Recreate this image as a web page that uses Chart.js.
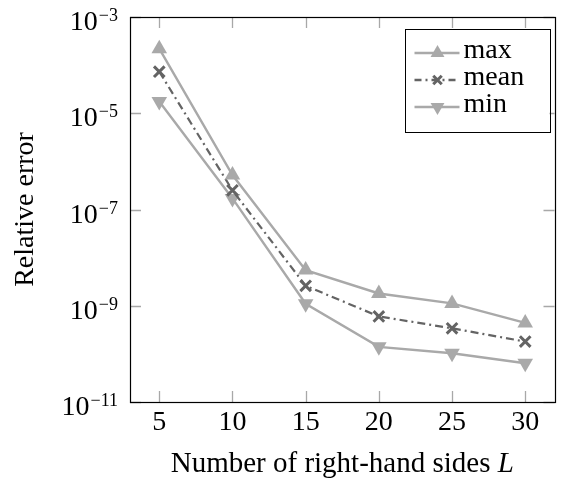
<!DOCTYPE html>
<html>
<head>
<meta charset="utf-8">
<script src="https://cdn.jsdelivr.net/npm/chart.js@4/dist/chart.umd.min.js"></script>
<style>
html,body{margin:0;padding:0;background:#fff;}
#wrap{width:565px;height:482px;position:relative;}
</style>
</head>
<body>
<div id="wrap"><canvas id="c" width="565" height="482"></canvas></div>
<script>
const categories = [5, 10, 15, 20, 25, 30];
const maxErr  = [2.2e-4, 5.2e-7, 5.5e-9, 1.8e-9, 1.12e-9, 4.4e-10];
const meanErr = [7.3e-5, 2.5e-7, 2.6e-9, 6.0e-10, 3.4e-10, 1.8e-10];
const minErr  = [1.75e-5, 1.7e-7, 1.1e-9, 1.4e-10, 1.03e-10, 6.4e-11];
const xTicks = [5, 10, 15, 20, 25, 30];
const yTickExps = [-11, -9, -7, -5, -3];
const seriesNames = ['max', 'mean', 'min'];

const LIGHT = '#a9a9a9';
const DARK = '#646464';
const FONT = "'Liberation Serif', 'DejaVu Serif', serif";

function pts(arr){ return categories.map((x,i)=>({x:x, y:arr[i]})); }

function drawMarker(ctx, style, x, y, r, color, rot){
  ctx.save();
  ctx.translate(x,y);
  if(style==='tri'){
    ctx.rotate((rot||0)*Math.PI/180);
    ctx.beginPath();
    for(let k=0;k<3;k++){
      const a = k*2*Math.PI/3;
      const px = Math.sin(a)*r, py = -Math.cos(a)*r;
      if(k===0) ctx.moveTo(px,py); else ctx.lineTo(px,py);
    }
    ctx.closePath();
    ctx.fillStyle = color; ctx.fill();
  } else {
    const d = r*Math.cos(Math.PI/4);
    ctx.strokeStyle = color; ctx.lineWidth = 3;
    ctx.beginPath();
    ctx.moveTo(-d,-d); ctx.lineTo(d,d);
    ctx.moveTo(-d,d); ctx.lineTo(d,-d);
    ctx.stroke();
  }
  ctx.restore();
}

const framePlugin = {
  id: 'frame',
  afterDatasetsDraw(chart){
    const ctx = chart.ctx;
    const a = chart.chartArea;
    const xs = chart.scales.x, ys = chart.scales.y;
    ctx.save();
    // inner tick marks
    ctx.strokeStyle = '#a8a8a8';
    ctx.lineWidth = 1.3;
    const TL = 11;
    ctx.beginPath();
    xTicks.forEach(v=>{
      const px = Math.round(xs.getPixelForValue(v))+0.5;
      ctx.moveTo(px, a.bottom); ctx.lineTo(px, a.bottom-TL);
      ctx.moveTo(px, a.top); ctx.lineTo(px, a.top+TL);
    });
    yTickExps.forEach(e=>{
      const py = Math.round(ys.getPixelForValue(Math.pow(10,e)))+0.5;
      ctx.moveTo(a.left, py); ctx.lineTo(a.left+TL, py);
      ctx.moveTo(a.right, py); ctx.lineTo(a.right-TL, py);
    });
    ctx.stroke();
    // border
    ctx.strokeStyle = '#000';
    ctx.lineWidth = 1.2;
    ctx.strokeRect(Math.round(a.left)+0.5, Math.round(a.top)+0.5, Math.round(a.right-a.left), Math.round(a.bottom-a.top));
    // y tick labels 10^e
    ctx.fillStyle = '#000';
    ctx.textBaseline = 'alphabetic';
    yTickExps.forEach(e=>{
      const py = ys.getPixelForValue(Math.pow(10,e));
      const rightX = a.left - 12;
      const expStr = '\u2212' + Math.abs(e);
      ctx.font = '18px ' + FONT;
      const ew = ctx.measureText(expStr).width;
      ctx.textAlign = 'left';
      ctx.fillText(expStr, rightX - ew, py + 4);
      ctx.font = '28px ' + FONT;
      ctx.textAlign = 'right';
      ctx.fillText('10', rightX - ew - 1, py + 13);
    });
    // y title
    ctx.save();
    ctx.translate(33, (a.top + a.bottom)/2);
    ctx.rotate(-Math.PI/2);
    ctx.font = '28px ' + FONT;
    ctx.textAlign = 'center';
    ctx.fillText('Relative error', 0, 0);
    ctx.restore();
    // x title
    ctx.font = '29px ' + FONT;
    const t1 = 'Number of right-hand sides ';
    const w1 = ctx.measureText(t1).width;
    ctx.font = 'italic 29px ' + FONT;
    const w2 = ctx.measureText('L').width;
    const cx = (a.left + a.right)/2;
    const sx = cx - (w1 + w2)/2;
    ctx.textAlign = 'left';
    ctx.font = '29px ' + FONT;
    ctx.fillText(t1, sx, 472);
    ctx.font = 'italic 29px ' + FONT;
    ctx.fillText('L', sx + w1, 472);
    // legend
    const lx = a.right - 150, ly = a.top + 12, lw = 145, lh = 103;
    ctx.fillStyle = '#fff';
    ctx.fillRect(lx, ly, lw, lh);
    ctx.strokeStyle = '#000';
    ctx.lineWidth = 1;
    ctx.strokeRect(Math.round(lx)+0.5, Math.round(ly)+0.5, lw, lh);
    const rows = [
      {name: seriesNames[0], color: LIGHT, dash: [], style: 'tri', rot: 0, r: 8},
      {name: seriesNames[1], color: DARK, dash: [7,4,2,4], style: 'x', rot: 0, r: 6},
      {name: seriesNames[2], color: LIGHT, dash: [], style: 'tri', rot: 180, r: 8}
    ];
    rows.forEach((row,i)=>{
      const yy = ly + 24 + i*27;
      ctx.save();
      ctx.strokeStyle = row.color;
      ctx.lineWidth = 2.4;
      ctx.setLineDash(row.dash);
      ctx.beginPath();
      ctx.moveTo(lx + 10, yy); ctx.lineTo(lx + 55, yy);
      ctx.stroke();
      ctx.restore();
      drawMarker(ctx, row.style, lx + 33, yy, row.r, row.color, row.rot);
      ctx.fillStyle = '#000';
      ctx.font = '28px ' + FONT;
      ctx.textAlign = 'left';
      ctx.textBaseline = 'alphabetic';
      ctx.fillText(row.name, lx + 59, yy + 5);
    });
    ctx.restore();
  }
};

new Chart(document.getElementById('c'), {
  type: 'line',
  data: {
    datasets: [
      {label: seriesNames[0], data: pts(maxErr), borderColor: LIGHT, backgroundColor: LIGHT,
       borderWidth: 2.4, pointStyle: 'triangle', pointRadius: 9, pointBorderWidth: 0, pointBackgroundColor: LIGHT, tension: 0},
      {label: seriesNames[1], data: pts(meanErr), borderColor: DARK, backgroundColor: DARK,
       borderWidth: 2.2, borderDash: [8,4,2,4], pointStyle: 'crossRot', pointRadius: 7.5, pointBorderWidth: 3, pointBorderColor: DARK, tension: 0},
      {label: seriesNames[2], data: pts(minErr), borderColor: LIGHT, backgroundColor: LIGHT,
       borderWidth: 2.4, pointStyle: 'triangle', pointRotation: 180, pointRadius: 9, pointBorderWidth: 0, pointBackgroundColor: LIGHT, tension: 0}
    ]
  },
  options: {
    responsive: false,
    animation: false,
    layout: {padding: {top: 17, right: 3, left: 0, bottom: 0}},
    plugins: {legend: {display: false}, tooltip: {enabled: false}},
    scales: {
      x: {
        type: 'linear', min: 3, max: 32,
        afterBuildTicks(s){ s.ticks = xTicks.map(v=>({value:v})); },
        afterFit(s){ s.height = 80; s.paddingLeft = 0; s.paddingRight = 0; },
        grid: {display: false, drawTicks: false},
        border: {display: false},
        ticks: {color: '#000', font: {family: FONT, size: 28}, padding: 4, maxRotation: 0}
      },
      y: {
        type: 'logarithmic', min: 1e-11, max: 1e-3,
        afterBuildTicks(s){ s.ticks = yTickExps.map(e=>({value:Math.pow(10,e)})); },
        afterFit(s){ s.width = 130; s.paddingTop = 0; s.paddingBottom = 0; },
        grid: {display: false, drawTicks: false},
        border: {display: false},
        ticks: {display: false}
      }
    }
  },
  plugins: [framePlugin]
});
</script>
</body>
</html>
